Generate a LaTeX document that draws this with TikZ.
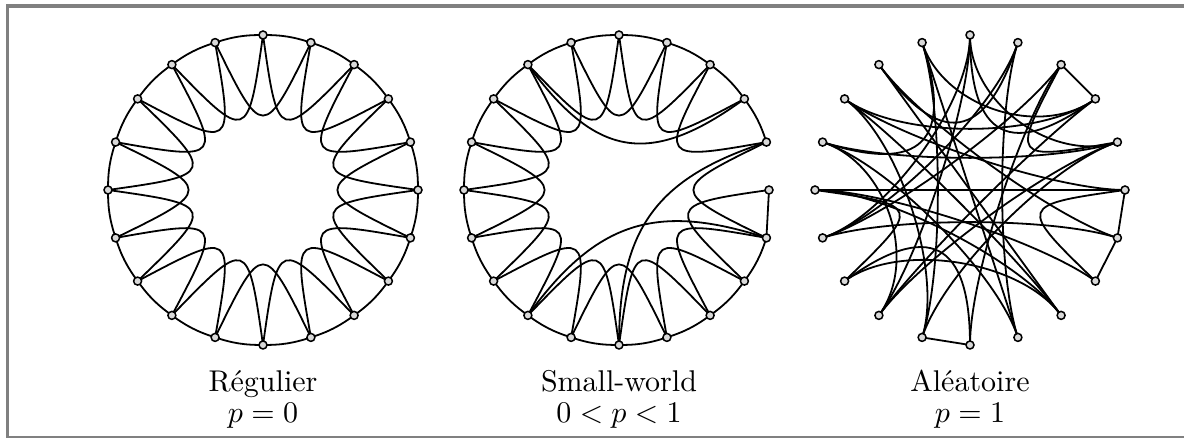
\documentclass[tikz,border=0pt]{standalone}
\usepackage{fontspec}
\usepackage{amsmath}
\usepackage{tikz}
\usetikzlibrary{positioning}
\tikzset{
    wsNode/.style={
        circle,
        draw=black,
        fill=gray!30,
        line width=0.75pt,
        inner sep=0pt,
        minimum size=4pt
    },
    ringEdge/.style={
        line width=0.9pt
    },
    chordEdge/.style={
        line width=0.9pt
    },
    frameLine/.style={
        draw=black!50
    },
    capText/.style={
        scale=1.5,
        anchor=base
    }
}
\begin{document}
\begin{tikzpicture}[x=0.5pt, y=0.5pt]
        \useasboundingbox (0,0) rectangle (1184,438);

        % Frame of the figure
        \draw[frameLine, line width=2pt] (6,431.5) -- (1184,431.5);
        \draw[frameLine, line width=1.5pt] (7.5,433) -- (7.5,1.5);
        \draw[frameLine, line width=0.8pt] (6,1.2) -- (1184,1.2);

        % Macro for a curved edge bending towards the centre
        \def\drawRandEdge#1#2#3{
            \pgfmathsetmacro\aout{#1*18+180}
            \pgfmathsetmacro\ain{#2*18+180}
            \draw[chordEdge] (C#1) to[out=\aout, in=\ain, distance=#3pt] (C#2);
        }

        % ---------------------------------------------------------
        % Regular ring, p = 0
        % ---------------------------------------------------------
        \begin{scope}[shift={(263,248)}]
            \foreach \k in {0,...,19} {
                \coordinate (A\k) at (\k*18:155);
            }
            \foreach \k in {0,...,19} {
                \pgfmathtruncatemacro\nxt{mod(\k+1,20)}
                \pgfmathtruncatemacro\nnx{mod(\k+2,20)}
                \pgfmathsetmacro\aout{\k*18+172}
                \pgfmathsetmacro\ain{\k*18+224}
                \draw[ringEdge] (A\k) to[bend right=9] (A\nxt);
                \draw[chordEdge] (A\k) to[out=\aout, in=\ain, looseness=2.9] (A\nnx);
            }
            \foreach \k in {0,...,19} {
                \node[wsNode] (nA\k) at (A\k) {};
            }
        \end{scope}

        % ---------------------------------------------------------
        % Small-world, 0 < p < 1
        % ---------------------------------------------------------
        \begin{scope}[shift={(619,248)}]
            \foreach \k in {1,...,19} {
                \coordinate (B\k) at (\k*18:155);
            }
            \coordinate (B0) at (0:150);
            \foreach \k in {1,...,18} {
                \pgfmathtruncatemacro\nxt{mod(\k+1,20)}
                \draw[ringEdge] (B\k) to[bend right=9] (B\nxt);
            }
            \draw[ringEdge] (B19) -- (B0);
            \foreach \k in {1,...,19} {
                \pgfmathtruncatemacro\nnx{mod(\k+2,20)}
                \pgfmathsetmacro\aout{\k*18+172}
                \pgfmathsetmacro\ain{\k*18+224}
                \draw[chordEdge] (B\k) to[out=\aout, in=\ain, looseness=2.9] (B\nnx);
            }
            % Rewired shortcuts
            \foreach \a/\b in {7/2, 1/15, 13/19} {
                \pgfmathsetmacro\aout{\a*18+180}
                \pgfmathsetmacro\ain{\b*18+180}
                \draw[chordEdge] (B\a) to[out=\aout, in=\ain, distance=58pt] (B\b);
            }
            \foreach \k in {0,...,19} {
                \node[wsNode] (nB\k) at (B\k) {};
            }
        \end{scope}

        % ---------------------------------------------------------
        % Random graph, p = 1
        % ---------------------------------------------------------
        \begin{scope}[shift={(970,248)}]
            \foreach \k in {0,...,19} {
                \coordinate (C\k) at (\k*18:155);
            }
            \foreach \a/\b in {3/2, 0/19, 19/18, 14/15} {
                \draw[chordEdge] (C\a) -- (C\b);
            }
            \foreach \k in {1, 10, 18} {
                \pgfmathtruncatemacro\nnx{mod(\k+2,20)}
                \pgfmathsetmacro\aout{\k*18+172}
                \pgfmathsetmacro\ain{\k*18+224}
                \draw[chordEdge] (C\k) to[out=\aout, in=\ain, looseness=2.9] (C\nnx);
            }
            % short jumps bend deep, long ones stay flatter
            \foreach \a/\b in {9/6, 12/15, 7/4, 5/2} {
                \drawRandEdge{\a}{\b}{52}
            }
            \foreach \a/\b in {9/1, 6/14, 4/16, 8/2, 5/13, 5/1, 6/16, 7/17,
                               11/4, 11/3, 10/0, 10/17, 10/18, 11/19, 12/17,
                               13/1, 13/2, 14/1, 15/3, 8/17, 8/0, 9/16, 7/19,
                               6/2, 5/11, 8/14, 9/13} {
                \drawRandEdge{\a}{\b}{34}
            }
            \foreach \k in {0,...,19} {
                \node[wsNode] (nC\k) at (C\k) {};
            }
        \end{scope}

        % Captions
        \node[capText] (labReg) at (263,46) {Régulier};
        \node[capText] (labRegP) at (263,15) {$p=0$};
        \node[capText] (labSmall) at (619,46) {Small-world};
        \node[capText] (labSmallP) at (619,15) {$0<p<1$};
        \node[capText] (labRand) at (970,46) {Aléatoire};
        \node[capText] (labRandP) at (970,15) {$p=1$};

\end{tikzpicture}
\end{document}
